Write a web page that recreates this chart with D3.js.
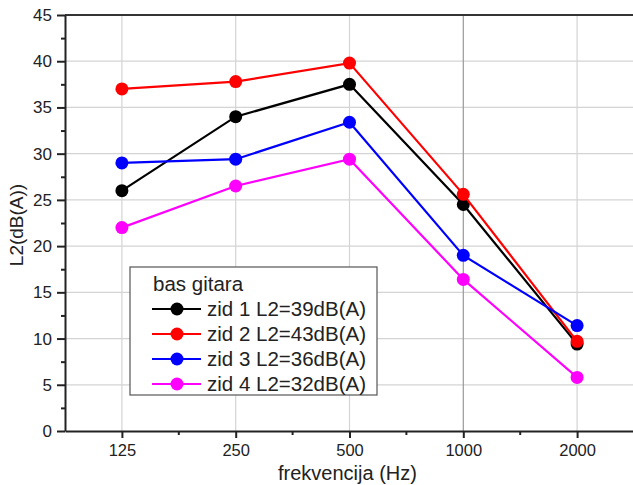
<!DOCTYPE html>
<html>
<head>
<meta charset="utf-8">
<script src="https://cdn.jsdelivr.net/npm/d3@7"></script>
<style>
  body { margin: 0; background: #fff; }
  text { font-family: "Liberation Sans", Arial, sans-serif; fill: #222; }
</style>
</head>
<body>
<script>
const freqs = ["125", "250", "500", "1000", "2000"]
const zid1 = [26, 34, 37.5, 24.5, 9.4]
const zid2 = [37, 37.8, 39.8, 25.6, 9.7]
const zid3 = [29, 29.4, 33.4, 19, 11.4]
const zid4 = [22, 26.5, 29.4, 16.4, 5.8]
const seriesNames = ["zid 1 L2=39dB(A)", "zid 2 L2=43dB(A)", "zid 3 L2=36dB(A)", "zid 4 L2=32dB(A)"]
const seriesColors = ["#000000", "#ff0000", "#0000ff", "#ff00ff"]
const legendTitle = "bas gitara"
const yTicks = [0, 5, 10, 15, 20, 25, 30, 35, 40, 45]

const w = 633, h = 485
const pLeft = 65, pRight = 634, pTop = 15, pBottom = 431

const series = [zid1, zid2, zid3, zid4].map((v, i) => ({name: seriesNames[i], color: seriesColors[i], values: v}))

const svg = d3.select("body").append("svg").attr("width", w).attr("height", h)

const x = d3.scalePoint().domain(freqs).range([pLeft, pRight]).padding(0.5)
const y = d3.scaleLinear().domain([0, 45]).range([pBottom, pTop])

// grid
const grid = svg.append("g")
grid.selectAll("line.h").data(yTicks.slice(1, -1)).enter().append("line")
  .attr("x1", pLeft).attr("x2", pRight).attr("y1", d => y(d)).attr("y2", d => y(d))
  .attr("stroke", "#d4d4d4").attr("stroke-width", 1.2)
grid.selectAll("line.v").data(freqs).enter().append("line")
  .attr("x1", d => x(d)).attr("x2", d => x(d)).attr("y1", pTop).attr("y2", pBottom)
  .attr("stroke", d => d === "1000" ? "#999" : "#d4d4d4").attr("stroke-width", 1.2)

// top border
svg.append("line").attr("x1", pLeft).attr("x2", pRight).attr("y1", pTop).attr("y2", pTop)
  .attr("stroke", "#333").attr("stroke-width", 2)

// minor ticks
const yMinor = yTicks.slice(0, -1).map(d => d + 2.5)
svg.append("g").attr("transform", "translate(" + pLeft + ",0)")
  .call(d3.axisLeft(y).tickValues(yMinor).tickSize(4).tickFormat(""))
  .call(g => g.select(".domain").remove())
  .call(g => g.selectAll("line").attr("stroke", "#222").attr("stroke-width", 2))
const xMinor = freqs.slice(0, -1).map((d, i) => (x(d) + x(freqs[i + 1])) / 2)
svg.append("g").selectAll("line").data(xMinor).enter().append("line")
  .attr("x1", d => d).attr("x2", d => d).attr("y1", pBottom).attr("y2", pBottom + 4)
  .attr("stroke", "#222").attr("stroke-width", 2)

// axes
const yAxis = svg.append("g").attr("transform", "translate(" + pLeft + ",0)")
  .call(d3.axisLeft(y).tickValues(yTicks).tickSize(8).tickSizeOuter(0).tickPadding(5))
yAxis.select(".domain").attr("stroke", "#222").attr("stroke-width", 2)
yAxis.selectAll("line").attr("stroke", "#222").attr("stroke-width", 2)
yAxis.selectAll("text").attr("font-size", 17).style("font-family", "Liberation Sans, Arial, sans-serif").attr("fill", "#222")

const xAxis = svg.append("g").attr("transform", "translate(0," + pBottom + ")")
  .call(d3.axisBottom(x).tickSize(7).tickSizeOuter(0).tickPadding(6))
xAxis.select(".domain").attr("stroke", "#222").attr("stroke-width", 2)
xAxis.selectAll("line").attr("stroke", "#222").attr("stroke-width", 2)
xAxis.selectAll("text").attr("font-size", 16.5).style("font-family", "Liberation Sans, Arial, sans-serif").attr("fill", "#222")

// axis titles
svg.append("text").attr("x", (pLeft + pRight) / 2 - 2).attr("y", 480).attr("text-anchor", "middle")
  .attr("font-size", 20).text("frekvencija (Hz)")
svg.append("text").attr("transform", "translate(23,225) rotate(-90)").attr("text-anchor", "middle")
  .attr("font-size", 19).text("L2(dB(A))")

// lines and markers
const line = d3.line().x((d, i) => x(freqs[i])).y(d => y(d))
const sg = svg.selectAll("g.series").data(series).enter().append("g").attr("class", "series")
sg.append("path").attr("d", d => line(d.values)).attr("fill", "none")
  .attr("stroke", d => d.color).attr("stroke-width", 2.2)
sg.selectAll("circle").data(d => d.values.map(v => ({v, c: d.color}))).enter().append("circle")
  .attr("cx", (d, i) => x(freqs[i])).attr("cy", d => y(d.v)).attr("r", 6.5).attr("fill", d => d.c)

// legend
const lg = svg.append("g").attr("transform", "translate(130,267)")
lg.append("rect").attr("width", 247).attr("height", 128).attr("fill", "#fff")
  .attr("stroke", "#555").attr("stroke-width", 1.2)
lg.append("text").attr("x", 23).attr("y", 24).attr("font-size", 20.5).text(legendTitle)
const li = lg.selectAll("g.item").data(series).enter().append("g").attr("class", "item")
  .attr("transform", (d, i) => "translate(0," + (42 + i * 25) + ")")
li.append("line").attr("x1", 22).attr("x2", 71).attr("stroke", d => d.color).attr("stroke-width", 2.2)
li.append("circle").attr("cx", 47).attr("r", 6.5).attr("fill", d => d.color)
li.append("text").attr("x", 77).attr("y", 7).attr("font-size", 20.5).text(d => d.name)
</script>
</body>
</html>
